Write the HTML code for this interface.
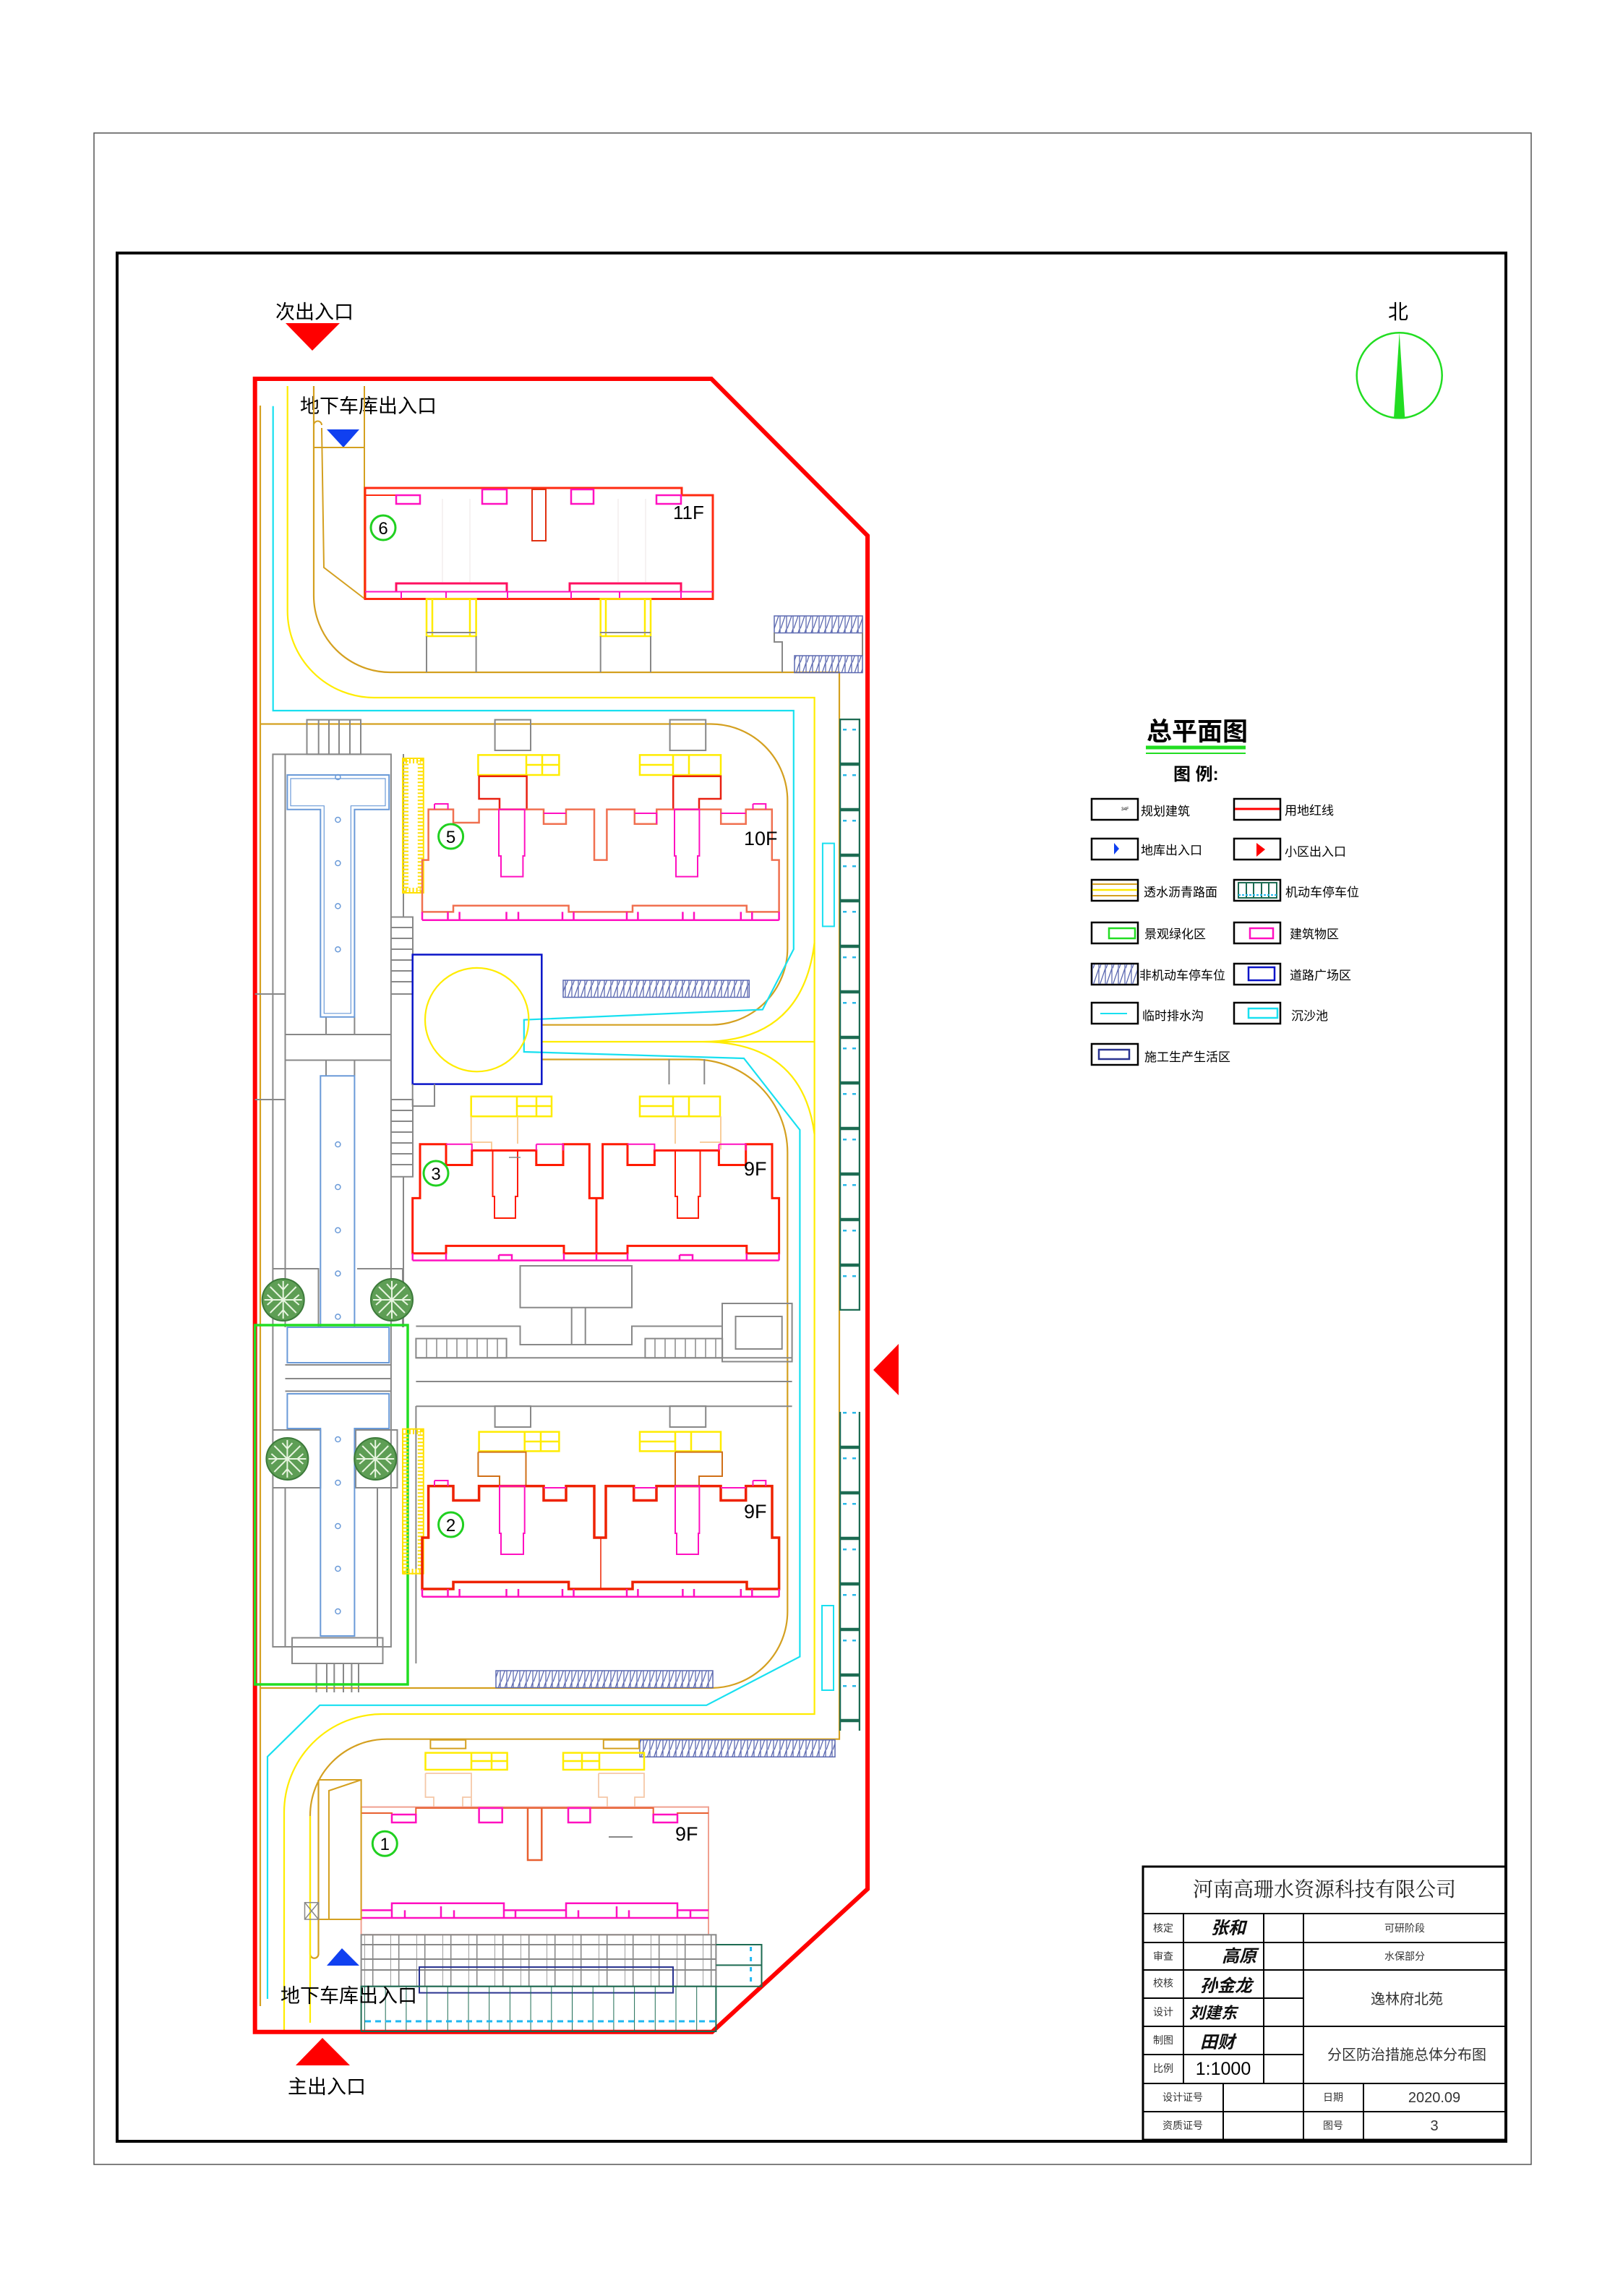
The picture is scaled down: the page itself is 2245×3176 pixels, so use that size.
<!DOCTYPE html>
<html><head><meta charset="utf-8">
<style>
html,body{margin:0;padding:0;background:#fff;}
svg{display:block;}
text{font-family:"Liberation Sans","Noto Sans CJK SC",sans-serif;}
</style></head>
<body>
<svg width="2245" height="3176" viewBox="0 0 2245 3176" xmlns="http://www.w3.org/2000/svg">
<defs>
<pattern id="bk" x="0" y="0" width="9" height="23.5" patternUnits="userSpaceOnUse">
<path d="M0,23.5 L8,0 M8,0 V23.5" stroke="#5b68b0" stroke-width="1.3" fill="none"/>
</pattern>
<pattern id="pk" x="1161" y="994" width="29" height="63" patternUnits="userSpaceOnUse">
<rect x="1" y="1" width="27" height="61" fill="none" stroke="#1d6b52" stroke-width="2.5"/>
<rect x="5" y="14" width="5" height="2.5" fill="#2ab8e8"/><rect x="18" y="14" width="5" height="2.5" fill="#2ab8e8"/>
</pattern>
<pattern id="gg" x="504" y="0" width="36" height="100" patternUnits="userSpaceOnUse">
<path d="M0,0 V100 M11.7,0 V100" stroke="#888" stroke-width="1.6"/>
</pattern>
<pattern id="gr" x="504" y="0" width="28.7" height="100" patternUnits="userSpaceOnUse">
<path d="M0,0 V100" stroke="#1d6b52" stroke-width="2"/>
</pattern>
<g id="tree">
<circle r="29" fill="#5e9e55" stroke="#3c7a3a" stroke-width="2"/>
<path d="M0,0 L0,-26 M0,0 L18,-18 M0,0 L26,0 M0,0 L18,18 M0,0 L0,26 M0,0 L-18,18 M0,0 L-26,0 M0,0 L-18,-18 M0,-14 L-7,-22 M0,-14 L7,-22 M14,0 L22,-7 M14,0 L22,7 M0,14 L7,22 M0,14 L-7,22 M-14,0 L-22,7 M-14,0 L-22,-7" stroke="#e8f5e0" stroke-width="2" fill="none"/>
</g>
</defs>

<!-- frames -->
<rect x="130" y="184" width="1988" height="2810" fill="none" stroke="#555" stroke-width="1.5"/>
<rect x="162" y="350" width="1921" height="2612" fill="none" stroke="#000" stroke-width="4"/>

<!-- entrance labels -->
<text x="381" y="441" font-size="27">次出入口</text>
<polygon points="395,447 470,447 432,485" fill="#f00"/>
<text x="415" y="571" font-size="27">地下车库出入口</text>
<polygon points="452,594 497,594 475,619" fill="#1040f0"/>
<polygon points="1208,1895 1243,1859 1243,1930" fill="#f00"/>
<polygon points="446,2819 484,2857 409,2857" fill="#f00"/>
<text x="398" y="2896" font-size="27">主出入口</text>
<polygon points="473,2695 497,2719 452,2719" fill="#1040f0"/>

<!-- roads -->
<g fill="none" stroke-width="2.2">
<path d="M360,561 V2775" stroke="#d4a020"/>
<path d="M434,534 V824 A106,106 0 0 0 540,930 H1161 V2405.7 H535 A106,106 0 0 0 429,2512 V2703 A5.7,5.7 0 0 0 440.5,2703 V2462" stroke="#d4a020"/>
<path d="M360,1001.5 H983 A106,106 0 0 1 1089.3,1107.5 V1311.5 A106,106 0 0 1 983.3,1417.7 H750.5" stroke="#d4a020"/>
<path d="M750.5,1465.5 H960 A129,129 0 0 1 1089.3,1594 V2229 A106,106 0 0 1 983,2335 H360" stroke="#d4a020"/>
<path d="M397.7,534 V845 A120,120 0 0 0 517.7,965 H1126.6 V2371 H529.5 A136,136 0 0 0 393,2507 V2813" stroke="#ffec00"/>
<path d="M750,1441 H1126.6 M971.5,1441 Q1110,1441 1126.6,1304 M971.5,1441 Q1110,1441 1126.6,1569" stroke="#ffec00"/>
<path d="M429,2512 V2798" stroke="#ffec00"/>
<path d="M377.7,561.7 V983 H1097.8 V1313 L1054.8,1396.5 L724.8,1410.7 V1455 L1029,1464 L1106.4,1563 V2291.6 L977.2,2358.8 H442.3 L370,2430 V2765" stroke="#18e0f0"/>
</g>

<!-- top ramp -->
<g fill="none" stroke="#d4a020" stroke-width="2">
<path d="M504,534 V828 M434,619 H504 M445,592 L448,785 L504,828"/>
<path d="M434,588 A5.5,5.5 0 0 1 445,588"/>
</g>

<!-- Building 6 -->
<g fill="none">
<path d="M505,675 H943 V685 H986 V828.5 H505 Z" stroke="#ff2a10" stroke-width="3"/>
<path d="M505,685 H547" stroke="#ff2a10" stroke-width="2"/>
<path d="M548,685 H581 V697 H548 Z M667,677 H701 V697 H667 Z M790,677 H821 V697 H790 Z M908,685 H942 V697 H908 Z" stroke="#ff10c0" stroke-width="2.5"/>
<path d="M736,677 H755 V748 H736 Z" stroke="#e03010" stroke-width="2"/>
<path d="M548,818 V807 H701 V818 M788,818 V807 H942 V818" stroke="#ff1060" stroke-width="3"/>
<path d="M505,818.5 H986 M555,818.5 V828 M617,818.5 V828 M702,818.5 V828 M790,818.5 V828 M857,818.5 V828 M942,818.5 V828" stroke="#ff10c0" stroke-width="2"/>
<path d="M590,828.5 H658.6 V880 H590 Z M598,828.5 V880 M650,828.5 V880 M830.7,828.5 H900 V880 H830.7 Z M838,828.5 V880 M892,828.5 V880" stroke="#ffec00" stroke-width="2.5"/>
<path d="M590,880 V930 M658.6,880 V930 M830.7,880 V930 M900,880 V930 M590,875 H658 M830,875 H900" stroke="#888" stroke-width="2"/>
<path d="M612,690 V805 M650,690 V805 M855,690 V805 M893,690 V805" stroke="#f4eeee" stroke-width="1.5"/>
</g>
<text x="931" y="718" font-size="26">11F</text>
<circle cx="530" cy="730" r="17" fill="none" stroke="#20d020" stroke-width="3"/>
<text x="530" y="739" font-size="24" text-anchor="middle">6</text>

<!-- top right bike parking -->
<rect x="1071" y="852" width="122" height="23.5" fill="url(#bk)" stroke="#5b68b0" stroke-width="1.5"/>
<path d="M1071,875 V888 H1082 V930 M1193,875 V907" fill="none" stroke="#888" stroke-width="2"/>
<rect x="1099" y="907" width="94" height="23.5" fill="url(#bk)" stroke="#5b68b0" stroke-width="1.5"/>

<!-- parking columns right -->
<rect x="1161" y="994" width="29" height="819" fill="url(#pk)"/>
<rect x="1161" y="1953" width="29" height="441" fill="url(#pk)"/>

<!-- red boundary -->
<path d="M352.7,524 H984 L1200,741 V2613 L985,2810.7 H352.7 Z" fill="none" stroke="#ff0000" stroke-width="6"/>

<!-- left column -->
<g fill="none" stroke="#888" stroke-width="2">
<path d="M424.5,995.6 H499 V1043.4 H424.5 Z M440.7,995.6 V1043.4 M455,995.6 V1043.4 M469,995.6 V1043.4 M484,995.6 V1043.4"/>
<path d="M377.4,1043.4 H540.9 V2278 H377.4 Z"/>
<path d="M352.7,1375 H394.5 V1521 H352.7 M394.5,1043.4 V1375 M394.5,1521 V1836 M394.5,1431 H540.9 M394.5,1466.5 H540.9 M451,1406.8 V1431 M490.4,1406.8 V1431 M451,1466.5 V1488 M490.4,1466.5 V1488"/>
<path d="M541,1268.5 H571 V1375 H541 M541,1283 H571 M541,1298 H571 M541,1313 H571 M541,1328 H571 M541,1343 H571 M541,1358 H571"/>
<path d="M541,1521 H571 V1627.7 H541 M541,1536 H571 M541,1551 H571 M541,1566 H571 M541,1581 H571 M541,1596 H571 M541,1611 H571"/>
<path d="M558,1043 V1268 M558,1627 V1836 M575.4,1945 V2301"/>
<path d="M377.4,1755 H440.5 V1836 M494,1755 H557 V1836"/>
<path d="M394.5,1888 H540.9 M394.5,1907 H540.9 M394.5,1924.4 H540.9"/>
<path d="M377.4,1978 H443.3 V2058 H377.4 M492,1978 H549.5 V2058 H492 Z M394.5,2058 V2278 M522,2058 V2278"/>
<path d="M404,2265.5 H529.5 V2301 H404 Z M437.6,2301 V2341 M452,2301 V2341 M462.3,2301 V2341 M475,2301 V2341 M486.4,2301 V2341 M496,2301 V2341"/>
</g>
<g fill="none" stroke="#6a9ad8" stroke-width="2">
<path d="M397.4,1072 H538.2 V1119.7 H490.4 V1406.8 H443.3 V1119.7 H397.4 Z"/>
<path d="M402,1077 H533 V1114.7 H485.4 V1401.8 H448.3 V1114.7 H402 Z" stroke-width="1.2"/>
<path d="M443.3,1488.3 H490.4 V1836 H443.3 Z"/>
<path d="M397.4,1836 H538.2 V1885 H397.4 Z M397.4,1928 H538.2 V1976 H490.4 V2263 H443.3 V1976 H397.4 Z"/>
</g>
<g fill="none" stroke="#6a9ad8" stroke-width="1.5">
<circle cx="467.4" cy="1075" r="3.5"/><circle cx="467.4" cy="1134" r="3.5"/><circle cx="467.4" cy="1194" r="3.5"/><circle cx="467.4" cy="1253.4" r="3.5"/><circle cx="467.4" cy="1313.2" r="3.5"/>
<circle cx="467.4" cy="1583" r="3.5"/><circle cx="467.4" cy="1642" r="3.5"/><circle cx="467.4" cy="1701.8" r="3.5"/><circle cx="467.4" cy="1761.6" r="3.5"/><circle cx="467.4" cy="1821.4" r="3.5"/>
<circle cx="467.4" cy="1991" r="3.5"/><circle cx="467.4" cy="2051" r="3.5"/><circle cx="467.4" cy="2111" r="3.5"/><circle cx="467.4" cy="2170" r="3.5"/><circle cx="467.4" cy="2229" r="3.5"/>
</g>
<use href="#tree" x="391.7" y="1798"/><use href="#tree" x="542" y="1798"/>
<use href="#tree" x="397.4" y="2018"/><use href="#tree" x="519.2" y="2018"/>
<rect x="352.7" y="1833" width="211.3" height="497" fill="none" stroke="#22dd22" stroke-width="3.5"/>

<!-- yellow ladders -->
<g fill="none" stroke="#ffe000" stroke-width="2">
<rect x="557" y="1049" width="28.8" height="186"/>
<rect x="561" y="1052" width="20.8" height="180" stroke-dasharray="2 3" stroke-width="8"/>
<rect x="557" y="1976.7" width="28.8" height="200"/>
<rect x="561" y="1980" width="20.8" height="194" stroke-dasharray="2 3" stroke-width="8"/>
</g>

<!-- Building 5 -->
<g fill="none">
<path d="M684.6,995.6 H734 V1038 H684.6 Z M926.6,995.6 H976.2 V1038 H926.6 Z" stroke="#888" stroke-width="2"/>
<path d="M661.4,1044.4 H773.4 V1072 H661.4 Z M728,1044.4 V1072 M728,1058 H773 M750,1044.4 V1072 M885,1044.4 H997 V1072 H885 Z M931,1044.4 V1072 M931,1058 H885 M953,1044.4 V1072" stroke="#ffec00" stroke-width="2.5"/>
<path d="M662.6,1073.7 H728.6 V1119.6 H691 V1105 H662.6 Z M931.2,1073.7 H997 V1105 H967 V1119.6 H931.2 Z" stroke="#e82010" stroke-width="2.5"/>
<path d="M584,1189.6 H592.6 V1119.6 H627 V1138 H662.6 V1119.6 H752 V1139.7 H783 V1119.6 H822 V1189.6 H839.4 V1119.6 H877.8 V1139.7 H908.3 V1119.6 H997.2 V1139.7 H1031.7 V1119.6 H1067.8 V1189.6 H1077.6 V1261.4 H1032.8 V1252.7 H875 V1261.4 H786.6 V1252.7 H627 V1261.4 H584 Z" stroke="#f07050" stroke-width="2.5"/>
<path d="M690,1119.6 H725.7 V1184 H723.4 V1212.6 H693 V1184 H690 Z M933,1119.6 H967.4 V1184 H965 V1212.6 H935 V1184 H933 Z" stroke="#ff10c0" stroke-width="2"/>
<path d="M601,1112 H619.6 V1119.6 M1041.5,1112 H1059.3 V1119.6 M601,1112 V1119.6 M1041.5,1112 V1119.6 M752,1125 H783 M877.8,1125 H908.3 V1139.7 M997.2,1125 H1031.7" stroke="#ff10c0" stroke-width="2"/>
<path d="M584,1272.8 H1077.6 M584,1261.4 V1272.8 M1077.6,1261.4 V1272.8 M619.5,1261.4 V1272.8 M635.6,1261.4 V1272.8 M700.5,1261.4 V1272.8 M717,1261.4 V1272.8 M778,1261.4 V1272.8 M793.5,1261.4 V1272.8 M867,1261.4 V1272.8 M882.4,1261.4 V1272.8 M944.4,1261.4 V1272.8 M960,1261.4 V1272.8 M1024.8,1261.4 V1272.8 M1040.3,1261.4 V1272.8" stroke="#ff10c0" stroke-width="2.5"/>
</g>
<text x="1029" y="1169" font-size="27">10F</text>
<circle cx="623.6" cy="1157" r="17" fill="none" stroke="#20d020" stroke-width="3"/>
<text x="623.6" y="1166" font-size="24" text-anchor="middle">5</text>

<!-- plaza -->
<rect x="570.7" y="1320.5" width="178.6" height="179.1" fill="none" stroke="#0a14c8" stroke-width="2.5"/>
<circle cx="659.7" cy="1410.6" r="71.7" fill="none" stroke="#ffec00" stroke-width="2.2"/>
<rect x="779" y="1356" width="257.3" height="23.5" fill="url(#bk)" stroke="#5b68b0" stroke-width="1.5"/>
<rect x="1137.9" y="1166.6" width="16" height="114.8" fill="none" stroke="#18e0f0" stroke-width="2"/>
<path d="M570.7,1499.6 V1530 H601 V1499.6 M925.5,1465 V1500 M974.3,1465 V1500" fill="none" stroke="#888" stroke-width="2"/>

<!-- Building 3 -->
<g fill="none">
<path d="M651.7,1516.8 H763 V1544.3 H651.7 Z M715,1516.8 V1544.3 M715,1530 H763 M742,1516.8 V1544.3 M885,1516.8 H996 V1544.3 H885 Z M931,1516.8 V1544.3 M931,1530 H885 M953,1516.8 V1544.3" stroke="#ffec00" stroke-width="2.5"/>
<path d="M651.7,1544.3 V1582 M716,1544.3 V1582 M651.7,1580 H680 V1590 M934,1544.3 V1582 M997,1544.3 V1582 M968,1580 H997 V1590" stroke="#f8c890" stroke-width="1.8"/>
<path d="M570.7,1657.4 H581 V1582.8 H617 V1611.5 H652.8 V1591.4 H741.8 V1611.5 H779 V1582.8 H815.3 V1657.4 H833.6 V1582.8 H868 V1611.5 H905.4 V1591.4 H994.4 V1611.5 H1031.7 V1582.8 H1068 V1657.4 H1077.6 V1733.8 H1032.8 V1723.4 H868 V1733.8 H780 V1723.4 H617 V1733.8 H570.7 Z M825,1657.4 V1733.8" stroke="#ff1a00" stroke-width="3"/>
<path d="M681.5,1591.4 H716 V1655 H713 V1685 H684 V1655 H681.5 Z M934,1591.4 H968.5 V1655 H966 V1685 H937 V1655 H934 Z" stroke="#ff1a00" stroke-width="2"/>
<path d="M617,1582.8 H652.8 V1591.4 M741.8,1582.8 H779 V1591.4 M741.8,1582.8 V1591.4 M868,1582.8 H905.4 V1591.4 M994.4,1582.8 H1031.7 V1591.4 M994.4,1582.8 V1591.4" stroke="#ff10c0" stroke-width="2"/>
<path d="M570.7,1743.5 H1077.6 M570.7,1733.8 V1743.5 M1077.6,1733.8 V1743.5 M617,1733.8 V1743.5 M780,1733.8 V1743.5 M868,1733.8 V1743.5 M1032.8,1733.8 V1743.5 M690,1736 H708 V1743.5 M690,1736 V1743.5 M940,1736 H958 V1743.5 M940,1736 V1743.5 M825,1733.8 V1743.5" stroke="#ff10c0" stroke-width="2.5"/>
<path d="M704,1601 H720" stroke="#888" stroke-width="1.5"/>
</g>
<text x="1029" y="1626" font-size="27">9F</text>
<circle cx="603" cy="1623" r="17" fill="none" stroke="#20d020" stroke-width="3"/>
<text x="603" y="1632" font-size="24" text-anchor="middle">3</text>

<!-- central service block -->
<g fill="none" stroke="#888" stroke-width="2">
<rect x="719.5" y="1751" width="154.5" height="57.7"/>
<path d="M790.7,1808.7 V1860 M809.7,1808.7 V1860"/>
<path d="M575.4,1834.5 H719.5 V1860 H874 V1834.5 H999 M575.4,1878.3 H1095.6 M575.4,1911 H1095.6 M575.4,1945.3 H1095.6"/>
<rect x="999" y="1803" width="96.6" height="80.5"/>
<rect x="1017.5" y="1821" width="64.2" height="45"/>
<rect x="575.4" y="1851.6" width="125.2" height="26.7"/>
<rect x="892.4" y="1851.6" width="106.8" height="26.7"/>
</g>
<g stroke="#888" stroke-width="1.5">
<path d="M590,1851.6 V1878 M604,1851.6 V1878 M618,1851.6 V1878 M632,1851.6 V1878 M646,1851.6 V1878 M660,1851.6 V1878 M674,1851.6 V1878 M688,1851.6 V1878"/>
<path d="M906,1851.6 V1878 M920,1851.6 V1878 M934,1851.6 V1878 M948,1851.6 V1878 M962,1851.6 V1878 M976,1851.6 V1878 M990,1851.6 V1878"/>
</g>

<!-- Building 2 -->
<g fill="none">
<path d="M684.6,1945 H734 V1974 H684.6 Z M926.6,1945 H976.2 V1974 H926.6 Z" stroke="#888" stroke-width="2"/>
<path d="M662.6,1980.6 H773.4 V2007.4 H662.6 Z M725.7,1980.6 V2007.4 M725.7,1994 H773 M748,1980.6 V2007.4 M885,1980.6 H997 V2007.4 H885 Z M934,1980.6 V2007.4 M934,1994 H885 M956,1980.6 V2007.4" stroke="#ffec00" stroke-width="2.5"/>
<path d="M661.4,2008.6 H727.5 V2055.6 M661.4,2008.6 V2042 H691 V2055.6 M934,2008.6 H999 V2042 H967 V2055.6 M934,2008.6 V2055.6" stroke="#d07018" stroke-width="2"/>
<path d="M584,2127 H592.6 V2055.6 H627 V2075.5 H662.6 V2055.6 H752 V2075.5 H783 V2055.6 H822 V2127 H838 V2055.6 H876.7 V2075.5 H908 V2055.6 H997 V2075.5 H1031.7 V2055.6 H1068 V2127 H1077.6 V2198 H1033 V2188.4 H875 V2198 H786.6 V2188.4 H627 V2198 H584 Z" stroke="#ee2200" stroke-width="3.5"/>
<path d="M831,2127 V2198" stroke="#ee2200" stroke-width="1.5"/>
<path d="M691,2055.6 H725.7 V2121 H724 V2150 H693 V2121 H691 Z M934,2055.6 H967.4 V2121 H966 V2150 H936 V2121 H934 Z" stroke="#ff10c0" stroke-width="2"/>
<path d="M601,2048 H619.6 V2055.6 M601,2048 V2055.6 M1041.5,2048 H1059.3 V2055.6 M1041.5,2048 V2055.6 M752,2058 H783 M876.7,2058 H908 M997,2058 H1031.7" stroke="#ff10c0" stroke-width="2"/>
<path d="M584,2208.7 H1077.6 M584,2198 V2208.7 M1077.6,2198 V2208.7 M619.5,2198 V2208.7 M635.6,2198 V2208.7 M700.5,2198 V2208.7 M717,2198 V2208.7 M778,2198 V2208.7 M793.5,2198 V2208.7 M867,2198 V2208.7 M882.4,2198 V2208.7 M944.4,2198 V2208.7 M960,2198 V2208.7 M1024.8,2198 V2208.7 M1040.3,2198 V2208.7" stroke="#ff10c0" stroke-width="2.5"/>
</g>
<text x="1029" y="2100" font-size="27">9F</text>
<circle cx="623.6" cy="2109" r="17" fill="none" stroke="#20d020" stroke-width="3"/>
<text x="623.6" y="2118" font-size="24" text-anchor="middle">2</text>

<rect x="686" y="2311" width="300" height="23.5" fill="url(#bk)" stroke="#5b68b0" stroke-width="1.5"/>
<rect x="1137" y="2221" width="16" height="117" fill="none" stroke="#18e0f0" stroke-width="2"/>
<rect x="885" y="2406.8" width="270" height="23.5" fill="url(#bk)" stroke="#5b68b0" stroke-width="1.5"/>

<!-- Building 1 -->
<g fill="none">
<path d="M595.4,2406.8 H644.2 V2418.6 H595.4 Z M834.8,2406.8 H884 V2418.6 H834.8 Z" stroke="#d4a020" stroke-width="2"/>
<path d="M588.5,2424.6 H701.6 V2448 H588.5 Z M652,2424.6 V2448 M652,2436 H701 M680,2424.6 V2448 M779,2424.6 H891 V2448 H779 Z M829,2424.6 V2448 M829,2436 H779 M805,2424.6 V2448" stroke="#ffec00" stroke-width="2.5"/>
<path d="M588.5,2453 H652 V2499.6 M588.5,2453 V2486 H600 V2499.6 M652,2486 H640 V2499.6 M828,2453 H891 V2486 H878 V2499.6 M828,2453 V2486 H840 V2499.6" stroke="#f5c8a8" stroke-width="1.8"/>
<rect x="499.6" y="2499.6" width="480.4" height="176.7" stroke="#f0a090" stroke-width="2"/>
<path d="M499.6,2508 H542 V2521 H575.3 V2501 H662.6 V2521 H694.7 V2501 H786 V2521 H816.4 V2501 H903.7 V2521 H937 V2508 H980" stroke="#e86030" stroke-width="2"/>
<path d="M542,2510 H575.3 V2521 H542 Z M662.6,2501 H694.7 V2521 H662.6 Z M786,2501 H816.4 V2521 H786 Z M903.7,2510 H937 V2521 H903.7 Z" stroke="#ff10c0" stroke-width="2.5"/>
<path d="M730,2501 V2573 H749.3 V2501" stroke="#e86030" stroke-width="2.5"/>
<path d="M499.6,2642.4 H542 V2632.8 H697 V2642.4 H783 V2632.8 H937 V2642.4 H980 M499.6,2653 H980 M542,2642.4 V2653 M560,2642.4 V2653 M610,2637 V2653 M628,2642.4 V2653 M697,2642.4 V2653 M713,2642.4 V2653 M783,2642.4 V2653 M800,2642.4 V2653 M853,2637 V2653 M870,2642.4 V2653 M937,2642.4 V2653 M955,2642.4 V2653" stroke="#ff10c0" stroke-width="2.5"/>
<path d="M842,2541 H875" stroke="#888" stroke-width="2"/>
<path d="M440.5,2462 H499.6 V2655 H440.5 M499.6,2462 L455,2477 V2655" stroke="#d4a020" stroke-width="2"/>
<path d="M421.5,2631.7 H440.5 V2655 H421.5 Z M421.5,2631.7 L440.5,2655 M440.5,2631.7 L421.5,2655" stroke="#888" stroke-width="1.5"/>
</g>
<text x="934" y="2546" font-size="27">9F</text>
<circle cx="532.3" cy="2550.3" r="17" fill="none" stroke="#20d020" stroke-width="3"/>
<text x="532.3" y="2559" font-size="24" text-anchor="middle">1</text>

<!-- bottom parking grids -->
<rect x="499.6" y="2676.3" width="490.8" height="71.4" fill="url(#gg)" stroke="#888" stroke-width="2"/>
<path d="M499.6,2690 H990.4 M499.6,2710 H990.4 M499.6,2725 H990.4" stroke="#888" stroke-width="2"/>
<rect x="580" y="2721" width="351" height="35.6" fill="none" stroke="#2a3490" stroke-width="2"/>
<rect x="499.6" y="2747.7" width="490.8" height="62.3" fill="url(#gr)" stroke="#1d6b52" stroke-width="2"/>
<path d="M505,2796 H990" stroke="#20b8f0" stroke-width="3" stroke-dasharray="8 6"/>
<path d="M990.4,2690 H1053.5 V2747.7 H990.4 M990.4,2718.4 H1053.5" fill="none" stroke="#1d6b52" stroke-width="2"/>
<path d="M1038.6,2693 V2745" stroke="#20b8f0" stroke-width="3" stroke-dasharray="6 8"/>
<text x="388" y="2770" font-size="27">地下车库出入口</text>

<!-- north arrow -->
<text x="1920" y="441" font-size="28">北</text>
<circle cx="1935.7" cy="519.3" r="59" fill="none" stroke="#22dd22" stroke-width="2.5"/>
<polygon points="1935.7,460 1943.3,578 1928,578" fill="#22dd22"/>

<!-- legend -->
<text x="1586" y="1024" font-size="35" font-weight="bold">总平面图</text>
<rect x="1585" y="1031.5" width="138" height="5" fill="#22dd22"/>
<rect x="1585" y="1041" width="138" height="2" fill="#22dd22"/>
<text x="1623" y="1079" font-size="24" font-weight="bold">图 例:</text>
<g fill="none" stroke="#000" stroke-width="2.5">
<rect x="1510" y="1105" width="64" height="29"/><rect x="1510" y="1160" width="64" height="29"/>
<rect x="1510" y="1217" width="64" height="29"/><rect x="1510" y="1276" width="64" height="29"/>
<rect x="1510" y="1333" width="64" height="29"/><rect x="1510" y="1387" width="64" height="29"/>
<rect x="1510" y="1444" width="64" height="29"/>
<rect x="1707" y="1105" width="64" height="29"/><rect x="1707" y="1160" width="64" height="29"/>
<rect x="1707" y="1217" width="64" height="29"/><rect x="1707" y="1276" width="64" height="29"/>
<rect x="1707" y="1333" width="64" height="29"/><rect x="1707" y="1387" width="64" height="29"/>
</g>
<text x="1551" y="1121" font-size="6">34F</text>
<polygon points="1541,1166 1548,1174 1541,1182" fill="#1040f0"/>
<path d="M1511,1223 H1573 M1511,1231 H1573 M1511,1239 H1573" stroke="#d4a020" stroke-width="2"/>
<path d="M1511,1231 H1573" stroke="#ffec00" stroke-width="2.5"/>
<rect x="1534" y="1284" width="36" height="14" fill="none" stroke="#22dd22" stroke-width="2.5"/>
<rect x="1511" y="1334" width="62" height="27" fill="url(#bk)"/>
<path d="M1522,1402 H1559" stroke="#18e0f0" stroke-width="2"/>
<rect x="1520" y="1452" width="42" height="13" fill="none" stroke="#2a3490" stroke-width="2.5"/>
<path d="M1708,1119 H1770" stroke="#f00" stroke-width="3"/>
<polygon points="1738,1166 1750,1175 1738,1185" fill="#f00"/>
<path d="M1713,1221 H1766 V1242 H1713 Z M1724,1221 V1242 M1734,1221 V1242 M1745,1221 V1242 M1755,1221 V1242" fill="none" stroke="#1d6b52" stroke-width="2"/>
<path d="M1713,1238 H1766" stroke="#20b8f0" stroke-width="2" stroke-dasharray="3 2"/>
<rect x="1729" y="1284" width="32" height="14" fill="none" stroke="#ff10c0" stroke-width="2.5"/>
<rect x="1727" y="1338" width="36" height="18" fill="none" stroke="#0a14c8" stroke-width="2.5"/>
<rect x="1727" y="1395" width="40" height="13" fill="none" stroke="#18e0f0" stroke-width="2.5"/>
<g font-size="17">
<text x="1578" y="1128">规划建筑</text>
<text x="1578" y="1182">地库出入口</text>
<text x="1582" y="1240">透水沥青路面</text>
<text x="1583" y="1298">景观绿化区</text>
<text x="1576" y="1355">非机动车停车位</text>
<text x="1580" y="1411">临时排水沟</text>
<text x="1583" y="1468">施工生产生活区</text>
<text x="1777" y="1127">用地红线</text>
<text x="1777" y="1184">小区出入口</text>
<text x="1778" y="1240">机动车停车位</text>
<text x="1784" y="1298">建筑物区</text>
<text x="1784" y="1355">道路广场区</text>
<text x="1786" y="1411">沉沙池</text>
</g>

<!-- title block -->
<g fill="none" stroke="#000">
<rect x="1581" y="2582" width="502" height="378" stroke-width="3"/>
<path d="M1581,2647 H2083 M1581,2687 H2083 M1581,2725 H2083 M1581,2764 H1803 M1581,2803 H2083 M1581,2842 H1803 M1581,2882 H2083 M1581,2921 H2083" stroke-width="2"/>
<path d="M1637,2647 V2882 M1748,2647 V2882 M1803,2647 V2960 M1692,2882 V2960 M1886,2882 V2960" stroke-width="2"/>
</g>
<text x="1832" y="2623" font-size="28" text-anchor="middle" fill="#222" style="font-family:'Liberation Serif','Noto Serif CJK SC',serif">河南高珊水资源科技有限公司</text>
<g font-size="14" fill="#333" style="font-family:'Liberation Serif','Noto Serif CJK SC',serif">
<text x="1609" y="2672" text-anchor="middle">核定</text>
<text x="1609" y="2711" text-anchor="middle">审查</text>
<text x="1609" y="2748" text-anchor="middle">校核</text>
<text x="1609" y="2788" text-anchor="middle">设计</text>
<text x="1609" y="2827" text-anchor="middle">制图</text>
<text x="1609" y="2866" text-anchor="middle">比例</text>
<text x="1636" y="2906" text-anchor="middle">设计证号</text>
<text x="1636" y="2945" text-anchor="middle">资质证号</text>
<text x="1844" y="2906" text-anchor="middle">日期</text>
<text x="1844" y="2945" text-anchor="middle">图号</text>
<text x="1943" y="2672" text-anchor="middle">可研阶段</text>
<text x="1943" y="2711" text-anchor="middle">水保部分</text>
</g>
<g font-size="20" fill="#333" style="font-family:'Liberation Serif','Noto Serif CJK SC',serif" text-anchor="middle">
<text x="1946" y="2772">逸林府北苑</text>
<text x="1946" y="2849">分区防治措施总体分布图</text>
<text x="1984" y="2908">2020.09</text>
<text x="1984" y="2947">3</text>
</g>
<text x="1692" y="2870" font-size="25" text-anchor="middle">1:1000</text>
<g font-size="24" font-weight="bold" font-style="italic" fill="#111" style="font-family:'Noto Serif CJK SC',serif">
<text x="1675" y="2675">张和</text>
<text x="1690" y="2714">高原</text>
<text x="1660" y="2755">孙金龙</text>
<text x="1645" y="2792" font-size="22">刘建东</text>
<text x="1660" y="2833">田财</text>
</g>
</svg>
</body></html>
